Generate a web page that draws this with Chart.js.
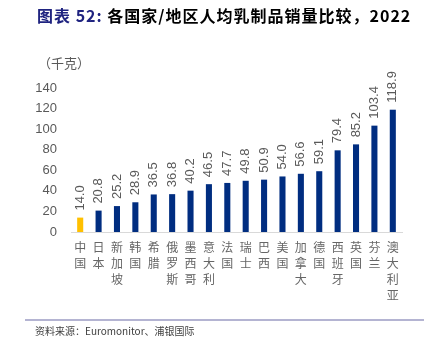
<!DOCTYPE html>
<html><head><meta charset="utf-8">
<script src="https://cdn.jsdelivr.net/npm/chart.js@4/dist/chart.umd.min.js"></script>
<style>
html,body{margin:0;padding:0;background:#fff;}
#wrap{position:relative;width:431px;height:350px;overflow:hidden;}
#title{position:absolute;left:37px;top:3px;font:bold 16px "Noto Sans CJK SC",sans-serif;color:#000;white-space:nowrap;letter-spacing:1px;}
#title .h{color:#1F2380;}
#unit{position:absolute;left:38px;top:53px;font:13px "Noto Sans CJK SC",sans-serif;color:#595959;}
#rule{position:absolute;left:25px;top:319px;width:399px;height:2px;background:#B4B4D2;}
#src{position:absolute;left:35px;top:323px;font:10px "Noto Sans CJK SC",sans-serif;color:#404040;}
canvas{position:absolute;left:0;top:0;}
</style></head>
<body><div id="wrap">
<canvas id="c" width="431" height="350"></canvas>
<div id="title"><span class="h">图表 52:</span> 各国家/地区人均乳制品销量比较，2022</div>
<div id="unit">（千克）</div>
<div id="rule"></div>
<div id="src">资料来源：Euromonitor、浦银国际</div>
</div>
<script>
const categories = ["中国","日本","新加坡","韩国","希腊","俄罗斯","墨西哥","意大利","法国","瑞士","巴西","美国","加拿大","德国","西班牙","英国","芬兰","澳大利亚"];
const values = [14.0,20.8,25.2,28.9,36.5,36.8,40.2,46.5,47.7,49.8,50.9,54.0,56.6,59.1,79.4,85.2,103.4,118.9];
const yTicks = [0,20,40,60,80,100,120,140];
const barColors = categories.map((c,i)=> i===0 ? "#FFC000" : "#002D80");

const valueLabels = {
  id:'valueLabels',
  afterDatasetsDraw(chart){
    const ctx = chart.ctx;
    const meta = chart.getDatasetMeta(0);
    ctx.save();
    ctx.font = '13px "Liberation Sans", Arial, sans-serif';
    ctx.fillStyle = '#595959';
    ctx.textAlign = 'left';
    ctx.textBaseline = 'middle';
    meta.data.forEach((bar,i)=>{
      ctx.save();
      ctx.translate(bar.x, bar.y - 7);
      ctx.rotate(-Math.PI/2);
      ctx.fillText(values[i].toFixed(1), 0, 0);
      ctx.restore();
    });
    ctx.restore();
  }
};

new Chart(document.getElementById('c'), {
  type:'bar',
  data:{
    labels: categories.map(s=>s.split('')),
    datasets:[{data:values, backgroundColor:barColors, barPercentage:0.33, categoryPercentage:1.0}]
  },
  options:{
    responsive:false, animation:false,
    layout:{padding:{left:31,top:88,right:29,bottom:0}},
    plugins:{legend:{display:false}, tooltip:{enabled:false}},
    scales:{
      x:{
        grid:{display:false, drawTicks:false},
        border:{display:true, color:'#D9D9D9', width:1},
        ticks:{color:'#666666', font:{family:'"Noto Sans CJK SC", sans-serif', size:12, lineHeight:1.35}, padding:7, maxRotation:0, minRotation:0, autoSkip:false},
        afterFit(s){ s.height = 118; }
      },
      y:{
        min:0, max:140,
        afterBuildTicks(s){ s.ticks = yTicks.map(v=>({value:v})); },
        grid:{display:false, drawTicks:false},
        border:{display:false},
        ticks:{color:'#595959', font:{family:'"Liberation Sans", Arial, sans-serif', size:13}, padding:14},
        afterFit(s){ s.width = 40; }
      }
    }
  },
  plugins:[valueLabels]
});
</script>
</body></html>
